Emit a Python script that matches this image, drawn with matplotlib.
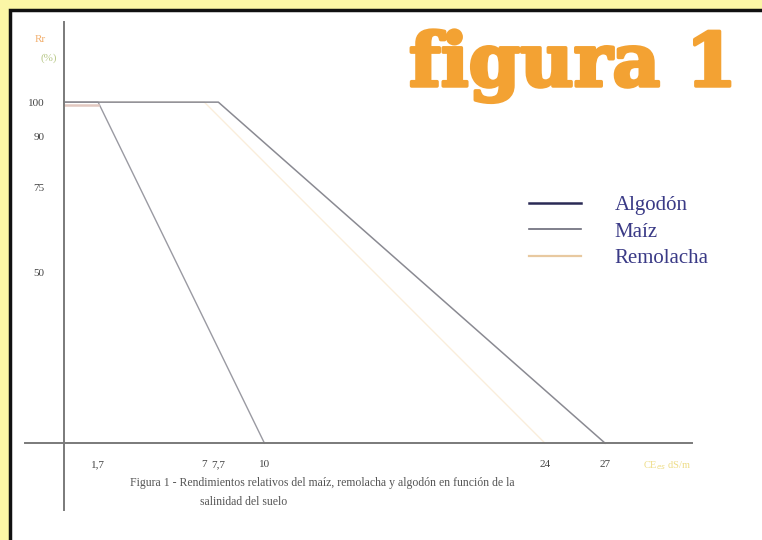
import matplotlib.pyplot as plt
import matplotlib.patheffects as pe
from matplotlib.patches import Rectangle
from matplotlib.lines import Line2D

# Relative yield (%) vs soil salinity (dS/m)
algodon_x = [0, 7.7, 27]
algodon_y = [100, 100, 0]
maiz_x = [0, 1.7, 10]
maiz_y = [100, 100, 0]
remolacha_x = [0, 7, 24]
remolacha_y = [100, 100, 0]

xticks = [1.7, 7, 7.7, 10, 24, 27]
xtick_labels = ['1,7', '7', '7,7', '10', '24', '27']
yticks = [100, 90, 75, 50]

W, H = 762, 540
fig = plt.figure(figsize=(W / 100, H / 100), dpi=100)
fig.patch.set_facecolor('#fbf6a6')

# white panel with dark border (runs off right/bottom edge)
panel = Rectangle((10 / W, -0.05), 1.1, 1 - 10 / H + 0.05, transform=fig.transFigure,
                  facecolor='white', edgecolor='#111111', lw=2.5, zorder=-1)
fig.patches.append(panel)

ax = fig.add_axes([25 / W, 1 - 510 / H, (692 - 25) / W, (510 - 22) / H], zorder=2)
ax.set_facecolor('none')
ax.set_xlim(-1.95, 31.34)
ax.set_ylim(-19.6, 123.5)

for s in ['top', 'right']:
    ax.spines[s].set_visible(False)
ax.spines['left'].set_position(('data', 0))
ax.spines['bottom'].set_position(('data', 0))
for s in ['left', 'bottom']:
    ax.spines[s].set_color('#7a7a7a')
    ax.spines[s].set_linewidth(1.4)

ax.plot(remolacha_x, remolacha_y, color='#f0c78a', lw=1.0, alpha=0.3)
ax.plot(maiz_x, maiz_y, color='#9a9aa2', lw=1.0)
ax.plot(algodon_x, algodon_y, color='#8a8a92', lw=1.1)
ax.plot(maiz_x[:2], [y - 0.7 for y in maiz_y[:2]], color='#e2c8c0', lw=1.8)

serif = ['Liberation Serif', 'DejaVu Serif']
ax.set_xticks(xticks)
ax.set_xticklabels(xtick_labels, fontsize=8, family=serif, color='#444444')
ax.set_yticks(yticks)
ax.set_yticklabels([str(v) for v in yticks], fontsize=8, family=serif, color='#444444')
ax.tick_params(axis='x', length=0, pad=12)
ax.tick_params(axis='y', length=0, pad=14)

ax.text(-1.45, 117.5, 'Rr', fontsize=8, family=serif, color='#f2b070')
ax.text(-1.2, 112, '(%)', fontsize=8, family=serif, color='#b8c888')
ax.text(28.9, -7.2, 'CE$_{es}$ dS/m', fontsize=7.5, family=serif, color='#eedd88')

handles = [Line2D([], [], color='#2a2a55', lw=1.8),
           Line2D([], [], color='#6a6a78', lw=1.2),
           Line2D([], [], color='#e8c9a0', lw=1.6)]
leg = ax.legend(handles, ['Algodón', 'Maíz', 'Remolacha'], loc='upper left',
                bbox_to_anchor=(0.74, 0.665), frameon=False, handlelength=2.5,
                handletextpad=1.6, labelspacing=0.32, borderpad=0,
                prop={'family': serif, 'size': 15})
for t in leg.get_texts():
    t.set_color('#3a3a86')

fig.text(0.752, 1 - 86 / H, 'figura 1', fontsize=53, family='DejaVu Serif', fontweight='bold',
         color='#f3a233', ha='center', va='baseline',
         path_effects=[pe.Stroke(linewidth=2.5, foreground='#f3a233'), pe.Normal()])

fig.text(0.17, 0.105, 'Figura 1 - Rendimientos relativos del maíz, remolacha y algodón en función de la',
         fontsize=8.5, family=serif, color='#555555', ha='left', va='center')
fig.text(0.32, 0.07, 'salinidad del suelo', fontsize=8.5, family=serif, color='#555555',
         ha='center', va='center')

fig.savefig('out.png', dpi=100, facecolor=fig.get_facecolor())
